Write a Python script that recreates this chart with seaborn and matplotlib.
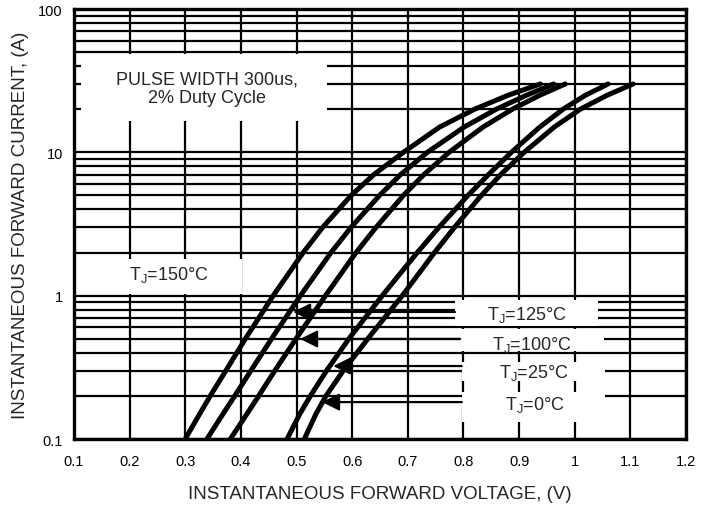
import pandas as pd
import matplotlib
matplotlib.use("Agg")
import matplotlib.pyplot as plt
from matplotlib.patches import Rectangle
from matplotlib.ticker import FixedLocator, NullFormatter, FuncFormatter
import seaborn as sns

#---------------------------------------------Datos---------------------------------------------

current = [0.1, 0.15, 0.2, 0.3, 0.5, 1, 2, 3, 5, 7, 10, 15, 20, 25, 30]

v_150 = [0.300, 0.326, 0.345, 0.373, 0.408, 0.458, 0.512, 0.547, 0.598, 0.639, 0.692, 0.757, 0.820, 0.880, 0.938]
v_125 = [0.339, 0.368, 0.389, 0.418, 0.455, 0.507, 0.562, 0.598, 0.649, 0.687, 0.735, 0.801, 0.859, 0.913, 0.962]
v_100 = [0.381, 0.411, 0.432, 0.461, 0.499, 0.552, 0.607, 0.643, 0.692, 0.729, 0.774, 0.835, 0.888, 0.937, 0.983]
v_25 = [0.483, 0.506, 0.525, 0.554, 0.594, 0.654, 0.717, 0.756, 0.808, 0.845, 0.886, 0.937, 0.979, 1.019, 1.060]
v_0 = [0.514, 0.535, 0.553, 0.584, 0.628, 0.690, 0.748, 0.784, 0.832, 0.867, 0.909, 0.963, 1.010, 1.058, 1.105]

temps = ["150", "125", "100", "25", "0"]
series = [v_150, v_125, v_100, v_25, v_0]

x_ticks = [0.1, 0.2, 0.3, 0.4, 0.5, 0.6, 0.7, 0.8, 0.9, 1.0, 1.1, 1.2]
y_ticks = [0.1, 1, 10, 100]

df = pd.concat([pd.DataFrame({"V": v, "I": current, "Tj": t}) for t, v in zip(temps, series)])

#---------------------------------------------------Grafico--------------------------------------------------------

sns.set_style("white")
plt.rcParams["font.family"] = ["Liberation Sans", "DejaVu Sans"]

fig = plt.figure(figsize=(7.1, 5.06), dpi=100)
ax = fig.add_axes([0.1042, 0.1304, 0.862, 0.8498])

for t in temps:
    sns.lineplot(data=df[df["Tj"] == t], x="V", y="I", color="black", lw=3.6,
                 ax=ax, zorder=5, legend=False, solid_joinstyle="round")

ax.set_yscale("log")
ax.set_xlim(0.1, 1.2)
ax.set_ylim(0.1, 100)

ax.xaxis.set_major_locator(FixedLocator(x_ticks))
ax.xaxis.set_major_formatter(FuncFormatter(lambda v, p: f"{v:g}"))
ax.yaxis.set_major_locator(FixedLocator(y_ticks))
ax.yaxis.set_major_formatter(FuncFormatter(lambda v, p: f"{v:g}"))
ax.yaxis.set_minor_formatter(NullFormatter())

ax.grid(axis="x", which="major", color="black", lw=1.6, zorder=1)
ax.grid(axis="y", which="both", color="black", lw=1.6, zorder=1)
ax.set_axisbelow(True)

for s in ax.spines.values():
    s.set_color("black")
    s.set_linewidth(2.4)
    s.set_zorder(6)

ax.tick_params(axis="both", which="both", length=0, labelsize=10.5, colors="black")
ax.tick_params(axis="x", pad=11)
ax.tick_params(axis="y", pad=8)

ax.set_xlabel("INSTANTANEOUS FORWARD VOLTAGE, (V)", fontsize=13.5, labelpad=12)
ax.set_ylabel("INSTANTANEOUS FORWARD CURRENT, (A)", fontsize=13.5, labelpad=7)

# cajas blancas de las etiquetas
boxes = [
    (0.113, 16.6, 0.555, 48.7),
    (0.102, 1.03, 0.402, 1.80),
    (0.785, 0.614, 1.042, 0.933),
    (0.794, 0.411, 1.053, 0.586),
    (0.797, 0.254, 1.055, 0.345),
    (0.797, 0.1315, 1.055, 0.213),
]
for x0, y0, x1, y1 in boxes:
    ax.add_patch(Rectangle((x0, y0), x1 - x0, y1 - y0, facecolor="white",
                           edgecolor="none", zorder=3))

ax.text(0.339, 28, "PULSE WIDTH 300us,\n2% Duty Cycle", ha="center", va="center",
        fontsize=13, linespacing=1.1, zorder=4)
ax.text(0.199, 1.417, "T$_{\\mathregular{J}}$=150°C", ha="left", va="center", fontsize=13, zorder=4)

labels = [
    ("T$_{\\mathregular{J}}$=125°C", 0.915, 0.745, 0.77, 0.494, 0.785),
    ("T$_{\\mathregular{J}}$=100°C", 0.924, 0.46, 0.499, 0.5065, 0.794),
    ("T$_{\\mathregular{J}}$=25°C", 0.926, 0.293, 0.323, 0.566, 0.797),
    ("T$_{\\mathregular{J}}$=0°C", 0.929, 0.1754, 0.181, 0.546, 0.797),
]
for txt, tx, ty, ay, tip, start in labels:
    ax.text(tx, ty, txt, ha="center", va="center", fontsize=13, zorder=4)
    ax.annotate("", xy=(tip, ay), xytext=(start, ay),
                arrowprops=dict(arrowstyle="-|>", color="black", lw=1.6,
                                mutation_scale=26, shrinkA=0, shrinkB=0),
                zorder=7)

fig.savefig("out.png", dpi=100)
